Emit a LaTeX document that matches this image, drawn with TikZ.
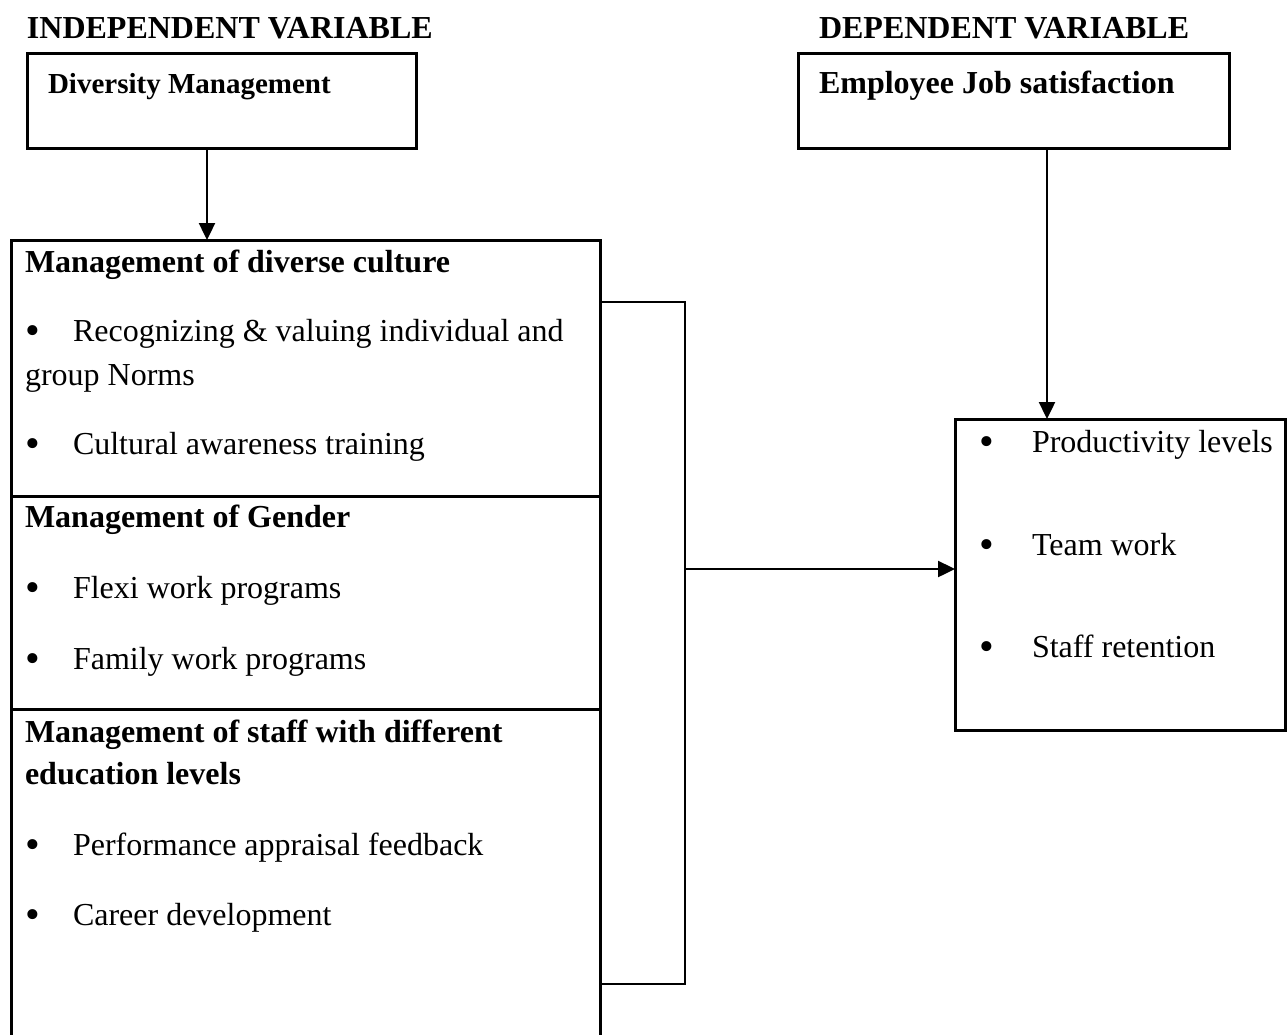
\documentclass[tikz,border=0pt]{standalone}
\usepackage{fontspec}
\setmainfont{Liberation Serif}
\usetikzlibrary{arrows.meta}
\begin{document}
\begin{tikzpicture}[x=1pt,y=-1pt,
  every node/.style={inner sep=0pt,outer sep=0pt},
  txt/.style={anchor=base west,font=\fontsize{32}{38}\selectfont},
  btxt/.style={txt,font=\fontsize{32}{38}\selectfont\bfseries},
  bul/.style={anchor=base,font=\fontsize{42}{48}\selectfont},
  box/.style={draw,line width=3pt,anchor=north west},
  frame/.style={line width=3pt},
  brk/.style={line width=2.2pt},
  arr/.style={line width=2.4pt,-{Triangle[length=17pt,width=16pt]}}]
\useasboundingbox (0,0) rectangle (1287,1034);

% headings
\node[btxt] (hind) at (27,38) {INDEPENDENT VARIABLE};
\node[btxt] (hdep) at (819,38) {DEPENDENT VARIABLE};

% top boxes
\node[box,minimum width=389pt,minimum height=95pt] (dm) at (27,53) {};
\node[btxt,font=\fontsize{29}{34}\selectfont\bfseries] (dmt) at (48,93) {Diversity Management};
\node[box,minimum width=431pt,minimum height=95pt] (ejs) at (798,53) {};
\node[btxt] (ejst) at (819,93) {Employee Job satisfaction};

% big left box (open at the bottom)
\coordinate (lbtop) at (207,240);
\draw[frame] (11,1040) -- (11,240) -- (600,240) -- (600,1040);
\draw[frame] (11,496) -- (600,496);
\draw[frame] (11,709) -- (600,709);

\node[btxt] (c1) at (25,272) {Management of diverse culture};
\node[bul] (b11) at (33,344) {\textbullet};
\node[txt] (c11) at (73,341) {Recognizing \& valuing individual and};
\node[txt] (c11b) at (25,385) {group Norms};
\node[bul] (b12) at (33,457) {\textbullet};
\node[txt] (c12) at (73,454) {Cultural awareness training};

\node[btxt] (c2) at (25,527) {Management of Gender};
\node[bul] (b21) at (33,601) {\textbullet};
\node[txt] (c21) at (73,598) {Flexi work programs};
\node[bul] (b22) at (33,672) {\textbullet};
\node[txt] (c22) at (73,669) {Family work programs};

\node[btxt] (c3) at (25,742) {Management of staff with different};
\node[btxt] (c3b) at (25,784) {education levels};
\node[bul] (b31) at (33,858) {\textbullet};
\node[txt] (c31) at (73,855) {Performance appraisal feedback};
\node[bul] (b32) at (33,928) {\textbullet};
\node[txt] (c32) at (73,925) {Career development};

% right box
\node[box,minimum width=330pt,minimum height=311pt] (rb) at (955,419) {};
\coordinate (rbtop) at (1047,419);
\node[bul] (rb1) at (987,455) {\textbullet};
\node[txt] (r1) at (1032,452) {Productivity levels};
\node[bul] (rb2) at (987,558) {\textbullet};
\node[txt] (r2) at (1032,555) {Team work};
\node[bul] (rb3) at (987,660) {\textbullet};
\node[txt] (r3) at (1032,657) {Staff retention};

% bracket
\coordinate (br1) at (600,302);
\coordinate (br2) at (600,984);
\coordinate (jn) at (685,569);
\draw[brk] (br1) -| (jn) |- (br2);

% arrows
\draw[arr] (dm.south -| lbtop) -- (lbtop);
\draw[arr] (ejs.south -| rbtop) -- (rbtop);
\draw[arr] (jn) -- (jn -| rb.west);
\end{tikzpicture}
\end{document}
